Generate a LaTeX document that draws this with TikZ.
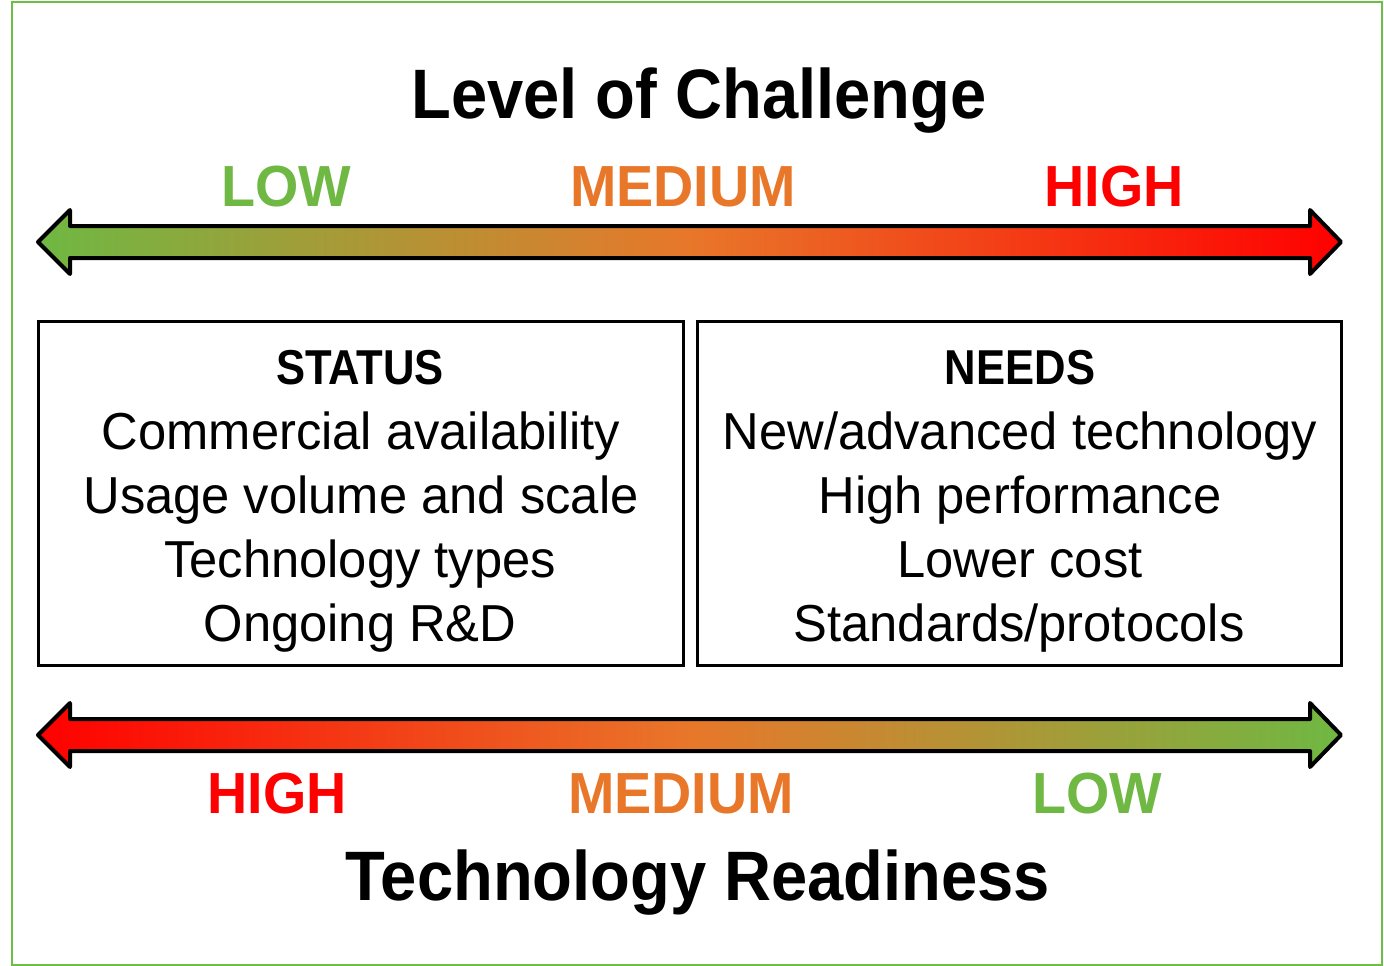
\documentclass[tikz,border=0pt]{standalone}
\usepackage{fontspec}
\newfontfamily\bodyfont{Liberation Sans}[FakeStretch=0.975]
\newfontfamily\headfont{Liberation Sans}[FakeStretch=0.93]
\newfontfamily\levelfont{Liberation Sans}[FakeStretch=0.96]
\newfontfamily\boxheadfont{Liberation Sans}[FakeStretch=0.89]
\definecolor{lowgreen}{HTML}{6FB843}
\definecolor{medorange}{HTML}{E8772A}
\definecolor{highred}{HTML}{FF0000}
\definecolor{framegreen}{HTML}{6CBE45}
\pgfdeclarehorizontalshading{lowtohigh}{100bp}{color(0bp)=(lowgreen); color(25bp)=(lowgreen); color(50bp)=(medorange); color(75bp)=(highred); color(100bp)=(highred)}
\pgfdeclarehorizontalshading{hightolow}{100bp}{color(0bp)=(highred); color(25bp)=(highred); color(50bp)=(medorange); color(75bp)=(lowgreen); color(100bp)=(lowgreen)}
\tikzset{
  title/.style={anchor=base, inner sep=0pt, font=\headfont\bfseries\fontsize{70}{70}\selectfont},
  level/.style={anchor=base, inner sep=0pt, font=\levelfont\bfseries\fontsize{58}{58}\selectfont},
  boxhead/.style={anchor=base, inner sep=0pt, font=\boxheadfont\bfseries\fontsize{49}{49}\selectfont},
  boxline/.style={anchor=base, inner sep=0pt, font=\bodyfont\fontsize{52}{52}\selectfont},
  panel/.style={draw=black, line width=3pt},
  bigarrow/.style={draw=black, line width=4pt, line join=round},
}
\begin{document}
\begin{tikzpicture}[x=1pt,y=-1pt]
\useasboundingbox (0,0) rectangle (1384,966);
\fill[white] (0,0) rectangle (1384,966);
\draw[framegreen, line width=2pt] (12,2) rectangle (1382,965);

% title
\node[title] (t1) at (699,118) {Level of Challenge};
\node[level, text=lowgreen] (l1) at (286,206) {LOW};
\node[level, text=medorange] (m1) at (683,206) {MEDIUM};
\node[level, text=highred] (h1) at (1114,206) {HIGH};

% top arrow
\path[bigarrow, shading=lowtohigh]
  (38,242) -- (70,210) -- (70,226) -- (1310,226) -- (1310,210) -- (1341,242)
  -- (1310,274) -- (1310,258) -- (70,258) -- (70,274) -- cycle;

% boxes
\draw[panel] (38,321) rectangle (683,665);
\draw[panel] (697,321) rectangle (1341,665);

\node[boxhead] (sh) at (360,384) {STATUS};
\node[boxline] (s1) at (361,449) {Commercial availability};
\node[boxline] (s2) at (361,513) {Usage volume and scale};
\node[boxline] (s3) at (360,577) {Technology types};
\node[boxline] (s4) at (360,641) {Ongoing R\&D};

\node[boxhead] (nh) at (1020,384) {NEEDS};
\node[boxline] (n1) at (1020,449) {New/advanced technology};
\node[boxline] (n2) at (1020,513) {High performance};
\node[boxline] (n3) at (1020,577) {Lower cost};
\node[boxline] (n4) at (1019,641) {Standards/protocols};

% bottom arrow
\path[bigarrow, shading=hightolow]
  (38,735) -- (70,703) -- (70,719) -- (1310,719) -- (1310,703) -- (1341,735)
  -- (1310,767) -- (1310,751) -- (70,751) -- (70,767) -- cycle;

\node[level, text=highred] (h2) at (277,813) {HIGH};
\node[level, text=medorange] (m2) at (681,813) {MEDIUM};
\node[level, text=lowgreen] (l2) at (1097,813) {LOW};
\node[title] (t2) at (698,900) {Technology Readiness};
\end{tikzpicture}
\end{document}
